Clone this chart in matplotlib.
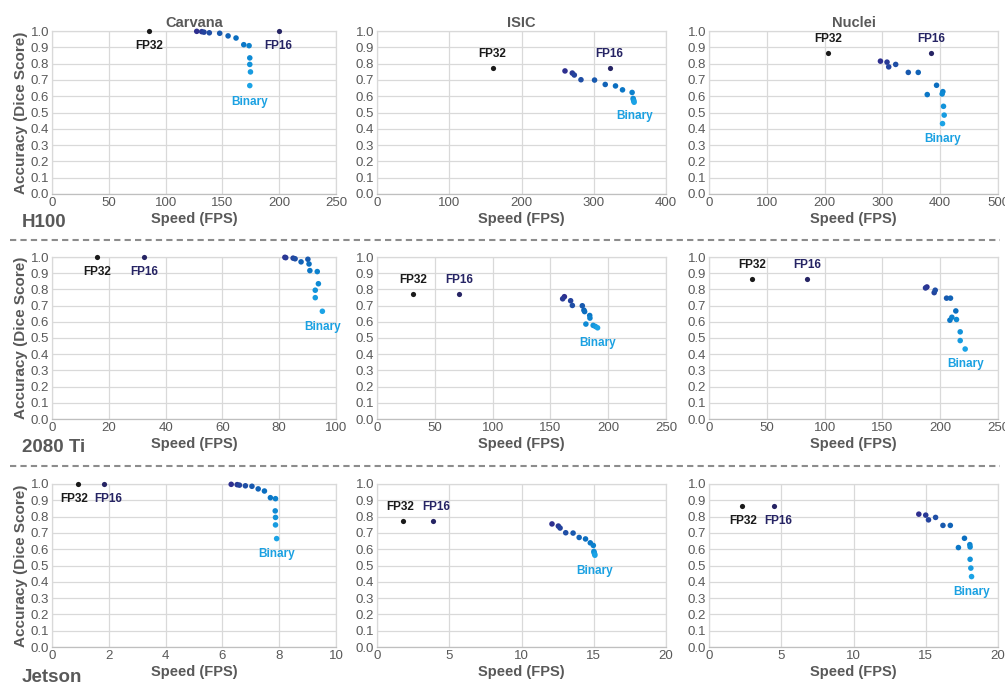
import matplotlib
matplotlib.use("Agg")
import matplotlib.pyplot as plt
import numpy as np
from matplotlib.colors import LinearSegmentedColormap
from matplotlib.lines import Line2D

plt.rcParams['font.family'] = ['Liberation Sans', 'DejaVu Sans']

datasets = ["Carvana", "ISIC", "Nuclei"]
devices = ["H100", "2080 Ti", "Jetson"]

# FP32 / FP16 points (speed, accuracy)
fp32_speed = {
    ("H100", "Carvana"): 85.6, ("H100", "ISIC"): 160, ("H100", "Nuclei"): 206,
    ("2080 Ti", "Carvana"): 15.8, ("2080 Ti", "ISIC"): 31.3, ("2080 Ti", "Nuclei"): 37.5,
    ("Jetson", "Carvana"): 0.92, ("Jetson", "ISIC"): 1.83, ("Jetson", "Nuclei"): 2.28,
}
fp16_speed = {
    ("H100", "Carvana"): 199.5, ("H100", "ISIC"): 321.8, ("H100", "Nuclei"): 384.5,
    ("2080 Ti", "Carvana"): 32.3, ("2080 Ti", "ISIC"): 71.3, ("2080 Ti", "Nuclei"): 84.7,
    ("Jetson", "Carvana"): 1.82, ("Jetson", "ISIC"): 3.85, ("Jetson", "Nuclei"): 4.48,
}
full_acc = {"Carvana": 0.999, "ISIC": 0.771, "Nuclei": 0.866}

# Mixed / binary configurations, accuracy per dataset (same on each device)
mixed_acc = {
    "Carvana": [0.998, 0.996, 0.993, 0.989, 0.986, 0.970, 0.957, 0.916, 0.910, 0.835, 0.795, 0.749, 0.665],
    "ISIC": [0.755, 0.742, 0.730, 0.701, 0.699, 0.672, 0.663, 0.639, 0.623, 0.586, 0.578, 0.571, 0.563],
    "Nuclei": [0.815, 0.809, 0.780, 0.795, 0.746, 0.746, 0.667, 0.610, 0.628, 0.614, 0.538, 0.484, 0.432],
}
mixed_speed = {
    ("H100", "Carvana"): [127.4, 131.8, 133.8, 138.5, 147.6, 155.0, 162.0, 168.8, 173.5, 174.1, 174.1, 174.7, 174.1],
    ("H100", "ISIC"): [260.2, 270.3, 273.1, 282.3, 301.1, 315.9, 330.1, 339.8, 353.1, 354.5, 355.0, 355.4, 355.9],
    ("H100", "Nuclei"): [296.6, 308.0, 310.9, 323.0, 344.8, 362.0, 393.7, 377.6, 404.6, 403.4, 405.7, 406.9, 404.0],
    ("2080 Ti", "Carvana"): [82.0, 82.3, 84.9, 85.6, 90.1, 87.7, 90.5, 90.8, 93.4, 93.8, 92.7, 92.7, 95.2],
    ("2080 Ti", "ISIC"): [162.1, 160.6, 167.5, 169.0, 177.6, 179.0, 179.6, 184.0, 184.2, 180.7, 187.0, 189.0, 190.8],
    ("2080 Ti", "Nuclei"): [188.5, 187.3, 194.8, 195.7, 205.5, 208.9, 213.5, 208.4, 210.1, 214.1, 217.3, 217.3, 221.6],
    ("Jetson", "Carvana"): [6.31, 6.52, 6.60, 6.81, 7.04, 7.26, 7.48, 7.69, 7.87, 7.86, 7.87, 7.87, 7.91],
    ("Jetson", "ISIC"): [12.11, 12.55, 12.67, 13.06, 13.57, 13.99, 14.43, 14.76, 14.97, 15.01, 15.03, 15.06, 15.08],
    ("Jetson", "Nuclei"): [14.52, 15.00, 15.19, 15.68, 16.19, 16.70, 17.68, 17.26, 18.05, 18.07, 18.07, 18.12, 18.17],
}
x_max = {
    ("H100", "Carvana"): 250, ("H100", "ISIC"): 400, ("H100", "Nuclei"): 500,
    ("2080 Ti", "Carvana"): 100, ("2080 Ti", "ISIC"): 250, ("2080 Ti", "Nuclei"): 250,
    ("Jetson", "Carvana"): 10, ("Jetson", "ISIC"): 20, ("Jetson", "Nuclei"): 20,
}
x_step = {
    ("H100", "Carvana"): 50, ("H100", "ISIC"): 100, ("H100", "Nuclei"): 100,
    ("2080 Ti", "Carvana"): 20, ("2080 Ti", "ISIC"): 50, ("2080 Ti", "Nuclei"): 50,
    ("Jetson", "Carvana"): 2, ("Jetson", "ISIC"): 5, ("Jetson", "Nuclei"): 5,
}

# ---- layout / style (pixel positions of axes) ----
W, H = 1005, 686
col_x = [(52, 336), (377, 666), (709, 998)]
row_y = [(31, 194), (257, 419), (484, 647)]

# label offsets in points: (dx, dy) relative to the point
lbl_fp32 = {
    ("H100", "Carvana"): (0, -11), ("H100", "ISIC"): (0, 10), ("H100", "Nuclei"): (0, 10),
    ("2080 Ti", "Carvana"): (0, -11), ("2080 Ti", "ISIC"): (0, 10), ("2080 Ti", "Nuclei"): (0, 10),
    ("Jetson", "Carvana"): (-3, -11), ("Jetson", "ISIC"): (-2.5, 10), ("Jetson", "Nuclei"): (1, -11),
}
lbl_fp16 = {
    ("H100", "Carvana"): (0, -11), ("H100", "ISIC"): (0, 10), ("H100", "Nuclei"): (0, 10),
    ("2080 Ti", "Carvana"): (0, -11), ("2080 Ti", "ISIC"): (0, 10), ("2080 Ti", "Nuclei"): (0, 10),
    ("Jetson", "Carvana"): (3.5, -11), ("Jetson", "ISIC"): (2.5, 10), ("Jetson", "Nuclei"): (3, -11),
}
lbl_bin = {
    ("H100", "Carvana"): (0, -12), ("H100", "ISIC"): (0, -10), ("H100", "Nuclei"): (0, -11),
    ("2080 Ti", "Carvana"): (0, -11), ("2080 Ti", "ISIC"): (0, -11), ("2080 Ti", "Nuclei"): (0, -11),
    ("Jetson", "Carvana"): (0, -11), ("Jetson", "ISIC"): (0, -11), ("Jetson", "Nuclei"): (0, -11),
}

GRAY = "#595959"
GRID = "#d9d9d9"
C_FP32 = "#1a1a1a"
C_FP16 = "#262464"
C_BIN = "#1ba1e2"
cmap = LinearSegmentedColormap.from_list("q", ["#2e2f8f", "#1f4ea5", "#0a6ec0", "#0e8ad4", "#1ba3e6"])

fig = plt.figure(figsize=(W / 100, H / 100), dpi=100)

for r, dev in enumerate(devices):
    for c, ds in enumerate(datasets):
        key = (dev, ds)
        x0, x1 = col_x[c]
        y0, y1 = row_y[r]
        ax = fig.add_axes([x0 / W, 1 - y1 / H, (x1 - x0) / W, (y1 - y0) / H])
        ax.set_xlim(0, x_max[key])
        ax.set_ylim(0, 1.0)
        ax.set_xticks(np.arange(0, x_max[key] + 1e-9, x_step[key]))
        ax.set_yticks(np.arange(0, 1.01, 0.1))
        ax.set_yticklabels([f"{v:.1f}" for v in np.arange(0, 1.01, 0.1)])
        ax.grid(True, color=GRID, linewidth=0.9)
        ax.set_axisbelow(True)
        for s in ax.spines.values():
            s.set_color(GRID)
            s.set_linewidth(0.9)
        ax.spines['bottom'].set_color("#bfbfbf")
        ax.tick_params(length=0, labelsize=9.5, labelcolor=GRAY, pad=2)
        ax.set_xlabel("Speed (FPS)", fontsize=10.5, fontweight="bold", color=GRAY, labelpad=2)
        if c == 0:
            ax.set_ylabel("Accuracy (Dice Score)", fontsize=11, fontweight="bold", color=GRAY, labelpad=2)
        if r == 0:
            ax.set_title(ds, fontsize=10.5, fontweight="bold", color=GRAY, pad=3)

        xs = mixed_speed[key]
        ys = mixed_acc[ds]
        n = len(xs)
        cols = [cmap(i / (n - 1)) for i in range(n)]
        ax.scatter(xs, ys, s=16, c=cols, zorder=3, linewidths=0, clip_on=False)
        ax.scatter([fp32_speed[key]], [full_acc[ds]], s=14, c=C_FP32, zorder=3, linewidths=0, clip_on=False)
        ax.scatter([fp16_speed[key]], [full_acc[ds]], s=14, c=C_FP16, zorder=3, linewidths=0, clip_on=False)

        tk = dict(textcoords="offset points", ha="center", va="center", fontsize=8.5, fontweight="bold")
        ax.annotate("FP32", (fp32_speed[key], full_acc[ds]), xytext=lbl_fp32[key], color=C_FP32, **tk)
        ax.annotate("FP16", (fp16_speed[key], full_acc[ds]), xytext=lbl_fp16[key], color=C_FP16, **tk)
        ax.annotate("Binary", (xs[-1], min(ys)), xytext=lbl_bin[key], color=C_BIN, **tk)

# row labels
for r, (dev, ypix) in enumerate(zip(devices, [222, 448, 677])):
    fig.text(22 / W, 1 - ypix / H, dev, fontsize=13.5, fontweight="bold", color=GRAY, ha="left", va="center")

# dashed separators
for ypix in [240, 466]:
    fig.add_artist(Line2D([10 / W, 1000 / W], [1 - ypix / H, 1 - ypix / H], color="#8c8c8c",
                          linestyle=(0, (3, 2)), linewidth=1.5))

fig.savefig("out.png", dpi=100)
